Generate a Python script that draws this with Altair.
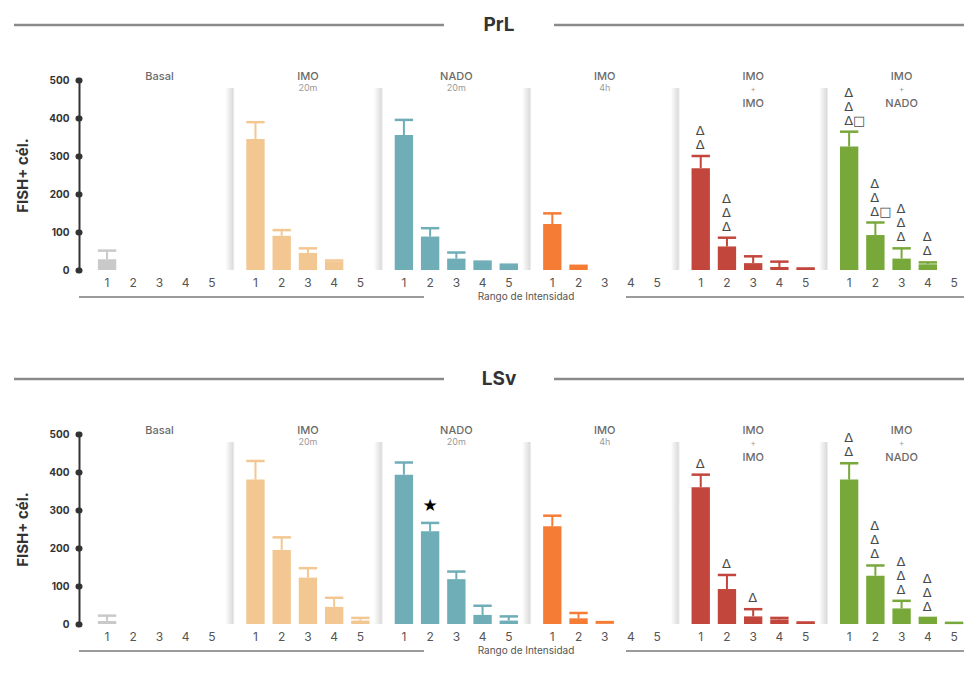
import altair as alt
import pandas as pd

# ---------------- data ----------------
panels = ["PrL", "LSv"]
group_keys = ["Basal", "IMO 20m", "NADO 20m", "IMO 4h", "IMO+IMO", "IMO+NADO"]
group_line1 = ["Basal", "IMO", "NADO", "IMO", "IMO", "IMO"]
group_sub = ["", "20m", "20m", "4h", "", ""]
group_plus = ["", "", "", "", "+", "+"]
group_line3 = ["", "", "", "", "IMO", "NADO"]
group_colors = ["#c9c9c9", "#f3c792", "#6fadb7", "#f57c35", "#c2463b", "#78a83a"]
ranks = ["1", "2", "3", "4", "5"]
y_ticks = [0, 100, 200, 300, 400, 500]

# PrL: mean and top of error bar per intensity rank (1..5)
prl_basal_mean = [28, 0, 0, 0, 0]
prl_basal_err = [51, 0, 0, 0, 0]
prl_imo20_mean = [345, 90, 45, 22, 0]
prl_imo20_err = [389, 105, 57, 25, 0]
prl_nado20_mean = [355, 88, 30, 20, 12]
prl_nado20_err = [395, 110, 46, 22, 14]
prl_imo4h_mean = [121, 9, 0, 0, 0]
prl_imo4h_err = [149, 11, 0, 0, 0]
prl_imoimo_mean = [268, 62, 18, 8, 3]
prl_imoimo_err = [300, 85, 36, 22, 4]
prl_imonado_mean = [325, 92, 30, 15, 0]
prl_imonado_err = [364, 125, 57, 20, 0]
prl_marks_imoimo = ["Δ\nΔ", "Δ\nΔ\nΔ", "", "", ""]
prl_marks_imonado = ["Δ\nΔ\nΔ□", "Δ\nΔ\nΔ□", "Δ\nΔ\nΔ", "Δ\nΔ", ""]

# LSv
lsv_basal_mean = [8, 0, 0, 0, 0]
lsv_basal_err = [22, 0, 0, 0, 0]
lsv_imo20_mean = [380, 195, 122, 45, 9]
lsv_imo20_err = [429, 228, 147, 69, 16]
lsv_nado20_mean = [393, 244, 118, 24, 9]
lsv_nado20_err = [425, 266, 138, 48, 20]
lsv_imo4h_mean = [257, 15, 2, 0, 0]
lsv_imo4h_err = [285, 29, 5, 0, 0]
lsv_imoimo_mean = [360, 92, 20, 12, 3]
lsv_imoimo_err = [393, 129, 39, 16, 4]
lsv_imonado_mean = [380, 127, 41, 14, 2]
lsv_imonado_err = [423, 154, 61, 16, 3]
lsv_marks_nado20 = ["", "★", "", "", ""]
lsv_marks_imoimo = ["Δ", "Δ", "Δ", "", ""]
lsv_marks_imonado = ["Δ\nΔ", "Δ\nΔ\nΔ", "Δ\nΔ\nΔ", "Δ\nΔ\nΔ", ""]

empty = ["", "", "", "", ""]
prl = dict(
    mean=[prl_basal_mean, prl_imo20_mean, prl_nado20_mean, prl_imo4h_mean, prl_imoimo_mean, prl_imonado_mean],
    err=[prl_basal_err, prl_imo20_err, prl_nado20_err, prl_imo4h_err, prl_imoimo_err, prl_imonado_err],
    ann=[empty, empty, empty, empty, prl_marks_imoimo, prl_marks_imonado],
)
lsv = dict(
    mean=[lsv_basal_mean, lsv_imo20_mean, lsv_nado20_mean, lsv_imo4h_mean, lsv_imoimo_mean, lsv_imonado_mean],
    err=[lsv_basal_err, lsv_imo20_err, lsv_nado20_err, lsv_imo4h_err, lsv_imoimo_err, lsv_imonado_err],
    ann=[empty, empty, lsv_marks_nado20, empty, lsv_marks_imoimo, lsv_marks_imonado],
)

# ---------------- layout constants ----------------
P = 5.66          # group period in x units
HALF = 0.35       # half bar width in x units
W, H = 885, 190
PXU = H / 500.0   # pixels per y unit
LH = 14           # annotation line height in px
FONT = "Inter"
color_scale = alt.Scale(domain=group_keys, range=group_colors)
xscale = alt.Scale(domain=[-1.07, 32.68], nice=False, zero=False)
yscale = alt.Scale(domain=[0, 500], nice=False)
YAX = alt.Axis(values=y_ticks, grid=False, labelOverlap=False,
               domainColor="#333333", domainWidth=2,
               tickSize=1, tickWidth=6, tickCap="round", tickColor="#333333",
               labelFont=FONT, labelFontSize=10, labelFontWeight="bold",
               labelColor="#333333", labelPadding=9,
               title="FISH+ cél.", titleFont=FONT, titleFontSize=15,
               titleFontWeight="bold", titleColor="#333333", titlePadding=18)


def make_panel(name, d):
    rows, arows = [], []
    for g, key in enumerate(group_keys):
        for i, r in enumerate(ranks):
            pos = g * P + i
            rows.append(dict(group=key, rank=r, pos=pos, x0=pos - HALF, x1=pos + HALF,
                             mean=d["mean"][g][i], err=d["err"][g][i]))
            a = d["ann"][g][i]
            if a:
                lines = a.split("\n")[::-1]
                for k, s in enumerate(lines):
                    arows.append(dict(pos=pos, err=d["err"][g][i], k=k, s=s, star=(s == "★")))
    df = pd.DataFrame(rows)
    adf = pd.DataFrame(arows)
    gdf = pd.DataFrame(dict(group=group_keys, l1=group_line1, sub=group_sub, plus=group_plus,
                            l3=group_line3, gx=[g * P + 2 for g in range(6)]))
    bdf = pd.DataFrame(dict(b=[g * P - (P - 4) / 2 for g in range(1, 6)]))
    bdf["b0"] = bdf["b"] - 0.32
    bdf["b1"] = bdf["b"] + 0.04
    one = pd.DataFrame(dict(t=[name]))
    rng = pd.DataFrame(dict(t=["Rango de Intensidad"]))

    X = lambda f: alt.X(f, scale=xscale, axis=None)
    Y = lambda f: alt.Y(f, scale=yscale, axis=YAX)
    C = alt.Color("group:N", scale=color_scale, legend=None)

    shadow = alt.Chart(bdf).mark_rect(
        color=alt.LinearGradient(gradient="linear", x1=0, x2=1, y1=0, y2=0,
                                 stops=[alt.GradientStop(color="#ffffff", offset=0),
                                        alt.GradientStop(color="#dcdcdc", offset=0.8),
                                        alt.GradientStop(color="#ffffff", offset=1)])
    ).encode(x=X("b0:Q"), x2="b1:Q", y=alt.value(8), y2=alt.value(H))

    base = alt.Chart(df)
    bars = base.transform_filter("datum.mean > 0").mark_bar().encode(
        x=X("x0:Q"), x2="x1:Q", y=Y("mean:Q"), y2=alt.datum(0), color=C)
    stems = base.transform_filter("datum.err > 0").mark_rule(strokeWidth=2).encode(
        x=X("pos:Q"), y=Y("mean:Q"), y2="err:Q", color=C)
    caps = base.transform_filter("datum.err > 0").mark_rule(strokeWidth=2.5).encode(
        x=X("x0:Q"), x2="x1:Q", y=Y("err:Q"), color=C)

    ann = alt.Chart(adf).transform_calculate(
        ay=f"datum.err + (4 + datum.k * {LH}) / {PXU}")
    deltas = ann.transform_filter("!datum.star").mark_text(
        align="left", baseline="bottom", dx=-5, fontSize=13,
        font="DejaVu Sans", color="#4a4a4a"
    ).encode(x=X("pos:Q"), y=Y("ay:Q"), text="s:N")
    star = ann.transform_filter("datum.star").mark_text(
        align="center", baseline="bottom", dy=-4, fontSize=17, font="DejaVu Sans", color="#000000"
    ).encode(x=X("pos:Q"), y=Y("ay:Q"), text="s:N")

    ticklab = base.mark_text(fontSize=12, font=FONT, color="#555555", baseline="middle").encode(
        x=X("pos:Q"), y=alt.value(H + 13), text="rank:N")

    g1 = alt.Chart(gdf).mark_text(fontSize=11, font=FONT, fontWeight=500, color="#6a6a6a",
                                  baseline="middle").encode(x=X("gx:Q"), y=alt.value(-3), text="l1:N")
    gsub = alt.Chart(gdf).transform_filter("datum.sub != ''").mark_text(
        fontSize=9, font=FONT, color="#9a9a9a", baseline="middle").encode(
        x=X("gx:Q"), y=alt.value(8), text="sub:N")
    gplus = alt.Chart(gdf).transform_filter("datum.plus != ''").mark_text(
        fontSize=8, font=FONT, color="#9a9a9a", baseline="middle").encode(
        x=X("gx:Q"), y=alt.value(10), text="plus:N")
    g3 = alt.Chart(gdf).transform_filter("datum.l3 != ''").mark_text(
        fontSize=11, font=FONT, fontWeight=500, color="#6a6a6a", baseline="middle").encode(
        x=X("gx:Q"), y=alt.value(24), text="l3:N")

    tcx = 420
    title = alt.Chart(one).mark_text(fontSize=19, font=FONT, fontWeight="bold", color="#333333",
                                     baseline="middle").encode(
        x=alt.value(tcx), y=alt.value(-55), text="t:N")
    tl = alt.Chart(one).mark_rule(color="#8a8a8a", strokeWidth=2.5).encode(
        x=alt.value(-65), x2=alt.value(tcx - 55), y=alt.value(-55))
    tr = alt.Chart(one).mark_rule(color="#8a8a8a", strokeWidth=2.5).encode(
        x=alt.value(tcx + 55), x2=alt.value(W), y=alt.value(-55))

    rcx = 447
    rt = alt.Chart(rng).mark_text(fontSize=10, font=FONT, color="#555555", baseline="middle").encode(
        x=alt.value(rcx), y=alt.value(H + 27), text="t:N")
    rl = alt.Chart(rng).mark_rule(color="#7a7a7a", strokeWidth=1.5).encode(
        x=alt.value(0), x2=alt.value(rcx - 102), y=alt.value(H + 27))
    rr = alt.Chart(rng).mark_rule(color="#7a7a7a", strokeWidth=1.5).encode(
        x=alt.value(rcx + 100), x2=alt.value(W), y=alt.value(H + 27))

    return alt.layer(shadow, bars, stems, caps, deltas, star, ticklab, g1, gsub, gplus, g3,
                     title, tl, tr, rt, rl, rr).properties(width=W, height=H)


top = make_panel(panels[0], prl)
bottom = make_panel(panels[1], lsv)

chart = alt.vconcat(top, bottom, spacing=68).properties(
    padding={"left": 4, "top": 8, "right": 0, "bottom": 0}
).configure_view(stroke=None)

chart.save("out.html", embed_options={"renderer": "svg", "actions": False})
